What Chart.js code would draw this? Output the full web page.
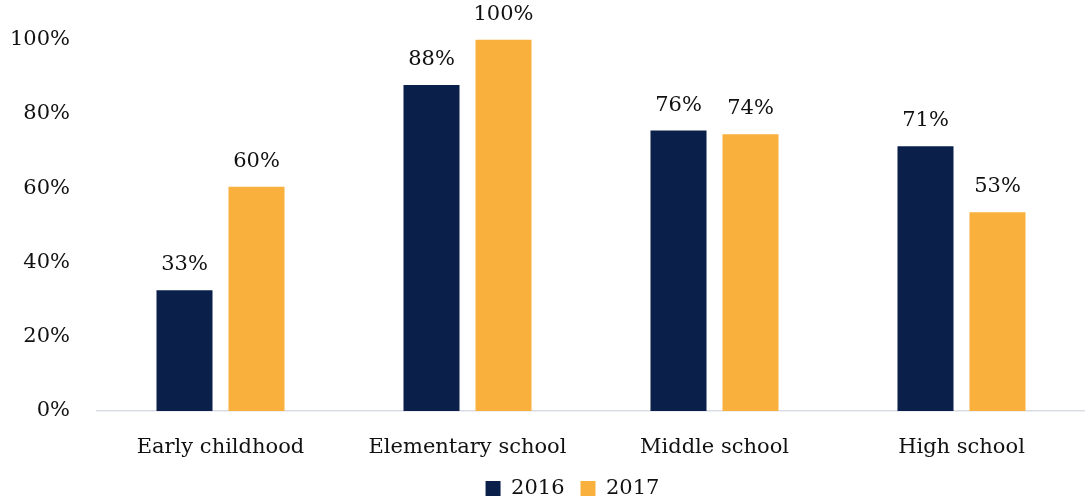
<!DOCTYPE html>
<html>
<head>
<meta charset="utf-8">
<script src="https://cdn.jsdelivr.net/npm/chart.js@4/dist/chart.umd.min.js"></script>
<style>
  html, body { margin: 0; padding: 0; background: #fff; }
  #wrap { width: 1085px; height: 499px; position: relative; }
</style>
</head>
<body>
<div id="wrap"><canvas id="chart"></canvas></div>
<script>
// data
const categories = ['Early childhood', 'Elementary school', 'Middle school', 'High school'];
const values2016 = [32.5, 87.8, 75.5, 71.3];
const values2017 = [60.4, 100, 74.5, 53.5];
const labels2016 = ['33%', '88%', '76%', '71%'];
const labels2017 = ['60%', '100%', '74%', '53%'];
const yTicks = [0, 20, 40, 60, 80, 100];

const FONT = 'DejaVu Serif';
const SIZE = 21;

// simple value labels above the bars
const barLabels = {
  id: 'barLabels',
  afterDatasetsDraw(chart) {
    const ctx = chart.ctx;
    ctx.save();
    ctx.font = SIZE + 'px "' + FONT + '"';
    ctx.fillStyle = '#111';
    ctx.textAlign = 'center';
    ctx.textBaseline = 'bottom';
    chart.data.datasets.forEach((ds, i) => {
      const meta = chart.getDatasetMeta(i);
      meta.data.forEach((bar, j) => {
        ctx.fillText(ds.labelText[j], bar.x, bar.y - 15);
      });
    });
    ctx.restore();
  }
};

// legend sits a bit right of the canvas centre in the original
const legendShift = {
  id: 'legendShift',
  afterLayout(chart) {
    chart.legend.left += 26;
    chart.legend.right += 26;
  }
};

new Chart(document.getElementById('chart'), {
  type: 'bar',
  data: {
    labels: categories,
    datasets: [
      { label: '2016', data: values2016, labelText: labels2016, backgroundColor: '#0a1f4a' },
      { label: '2017', data: values2017, labelText: labels2017, backgroundColor: '#f9b03d' }
    ]
  },
  options: {
    responsive: true,
    maintainAspectRatio: false,
    animation: false,
    layout: { autoPadding: false, padding: { top: 35, right: 0, left: 8, bottom: 0 } },
    datasets: { bar: { categoryPercentage: 0.583, barPercentage: 0.778 } },
    plugins: {
      legend: {
        position: 'bottom',
        maxHeight: 37,
        labels: {
          font: { family: FONT, size: SIZE },
          color: '#111',
          boxWidth: 15,
          boxHeight: 15,
          padding: 16
        }
      },
      tooltip: { enabled: false }
    },
    scales: {
      x: {
        afterFit(axis) { axis.height = 51; },
        grid: { display: false, drawTicks: false },
        border: { color: '#d9dde3', width: 1.5 },
        ticks: { font: { family: FONT, size: SIZE }, color: '#111', padding: 24 }
      },
      y: {
        min: 0,
        max: 100,
        afterFit(axis) { axis.width = 89; },
        afterBuildTicks(axis) { axis.ticks = yTicks.map(v => ({ value: v })); },
        grid: { display: false, drawTicks: false },
        border: { display: false },
        ticks: {
          font: { family: FONT, size: SIZE },
          color: '#111',
          padding: 27,
          callback: v => v + '%'
        }
      }
    }
  },
  plugins: [barLabels, legendShift]
});
</script>
</body>
</html>
